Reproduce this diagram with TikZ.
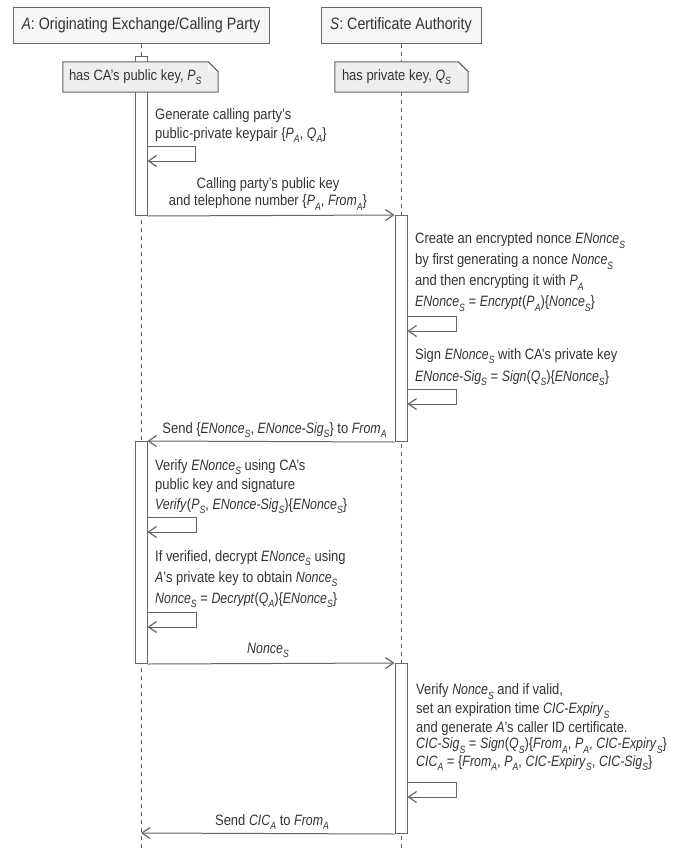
\documentclass[tikz,border=0pt]{standalone}
\usepackage{fontspec}
\setmainfont{Liberation Sans}[
  UprightFeatures={FakeStretch=0.865},
  ItalicFeatures={FakeStretch=0.825}]
\usetikzlibrary{arrows.meta}

\definecolor{ink}{HTML}{333333}
\definecolor{edge}{HTML}{666666}
\definecolor{headfill}{HTML}{F6F6F6}
\definecolor{notefill}{HTML}{EEEEEE}

% italic lowered index, as in P_S
\newcommand\lo[1]{\raisebox{-0.3em}{\fontsize{10.5}{10.5}\selectfont\itshape #1}}
\newcommand\vi[1]{\textit{#1}}

\tikzset{
  head/.style={draw=edge, fill=headfill, line width=1pt, inner sep=0pt,
    minimum height=36pt, font=\fontsize{16.5}{18}\selectfont},
  life/.style={draw=edge, line width=1pt, dash pattern=on 4pt off 4pt},
  act/.style={draw=edge, fill=white, line width=1pt, inner sep=0pt,
    minimum width=12pt, anchor=north},
  notetext/.style={inner sep=0pt, minimum height=30pt},
  notebox/.style={draw=edge, fill=notefill, line width=1pt, line join=miter},
  msg/.style={draw=edge, line width=1pt, -{Straight Barb[length=8pt,width=11pt,line width=1.2pt]}},
  txt/.style={inner sep=0pt, align=left, anchor=base west},
  ctxt/.style={inner sep=0pt, align=center, anchor=base},
}

\begin{document}
\begin{tikzpicture}[x=1pt, y=-1pt, font=\fontsize{15}{18}\selectfont, text=ink]
\useasboundingbox (0,0) rectangle (678,849);

% participants
\node[head, minimum width=256pt] (hA) at (141,25) {\vi{A}: Originating Exchange/Calling Party};
\node[head, minimum width=160pt] (hS) at (401,25) {\vi{S}: Certificate Authority};

% lifelines
\coordinate (bA) at (141,849);
\coordinate (bS) at (401,849);
\draw[life] (hA.south) -- (bA);
\draw[life] (hS.south) -- (bS);

% activation bars
\node[act, minimum height=159pt] (a1) at (141,56) {};
\node[act, minimum height=226pt] (s1) at (401,215) {};
\node[act, minimum height=222pt] (a2) at (141,441) {};
\node[act, minimum height=170pt] (s2) at (401,663) {};

% notes with a folded corner
\node[notetext, minimum width=155pt] (nA) at (140.5,77) {};
\node[notetext, minimum width=133pt] (nS) at (401.5,77) {};
\foreach \n in {nA,nS}{
  \draw[notebox] (\n.north west) -- ([xshift=-10pt]\n.north east)
    -- ([yshift=-10pt]\n.north east) -- (\n.south east) -- (\n.south west) -- cycle;
  \fill[white] ([xshift=-10pt]\n.north east) -- ([xshift=-10pt,yshift=-10pt]\n.north east)
    -- ([yshift=-10pt]\n.north east) -- cycle;
  \draw[edge, line width=1pt] ([xshift=-10pt]\n.north east) -- ([yshift=-10pt]\n.north east);
}
\node[inner sep=0pt, anchor=west] (tA) at ([xshift=6pt]nA.west) {has CA's public key, \vi{P}\lo{S}};
\node[inner sep=0pt, anchor=west] (tS) at ([xshift=7pt]nS.west) {has private key, \vi{Q}\lo{S}};

% A generates its keypair
\node[txt] (g1) at (155,138) {Generate calling party's\\[0.5pt]public-private keypair \{\vi{P}\lo{A}, \vi{Q}\lo{A}\}};
\coordinate (k1) at (195,146);
\coordinate (k1e) at (195,161);
\draw[msg] (a1.east |- k1) -- (k1) -- (k1e) -- (a1.east |- k1e);

% A -> S : public key and number
\node[ctxt] (m1) at (268,205.5) {Calling party's public key\\[-0.5pt]and telephone number \{\vi{P}\lo{A}, \vi{From}\lo{A}\}};
\draw[msg] (a1.south east) -- (s1.north west);

% S creates the encrypted nonce
\node[txt] (c1) at (415,306.5) {Create an encrypted nonce \vi{ENonce}\lo{S}\\[3pt]
  by first generating a nonce \vi{Nonce}\lo{S}\\[3pt]
  and then encrypting it with \vi{P}\lo{A}\\[3pt]
  \vi{ENonce}\lo{S} = \vi{Encrypt}(\vi{P}\lo{A})\{\vi{Nonce}\lo{S}\}};
\coordinate (k2) at (456,316);
\coordinate (k2e) at (456,331);
\draw[msg] (s1.east |- k2) -- (k2) -- (k2e) -- (s1.east |- k2e);

% S signs it
\node[txt] (c2) at (415,381) {Sign \vi{ENonce}\lo{S} with CA's private key\\[4pt]
  \vi{ENonce-Sig}\lo{S} = \vi{Sign}(\vi{Q}\lo{S})\{\vi{ENonce}\lo{S}\}};
\coordinate (k3) at (456,389);
\coordinate (k3e) at (456,404);
\draw[msg] (s1.east |- k3) -- (k3) -- (k3e) -- (s1.east |- k3e);

% S -> A : nonce and signature
\node[ctxt] (m2) at (274.5,433) {Send \{\vi{ENonce}\lo{S}, \vi{ENonce-Sig}\lo{S}\} to \vi{From}\lo{A}};
\draw[msg] (s1.south west) -- (a2.north east);

% A verifies
\node[txt] (v1) at (155,509) {Verify \vi{ENonce}\lo{S} using CA's\\[1.5pt]
  public key and signature\\[1.5pt]
  \vi{Verify}(\vi{P}\lo{S}, \vi{ENonce-Sig}\lo{S})\{\vi{ENonce}\lo{S}\}};
\coordinate (k4) at (196,517);
\coordinate (k4e) at (196,532);
\draw[msg] (a2.east |- k4) -- (k4) -- (k4e) -- (a2.east |- k4e);

% A decrypts
\node[txt] (v2) at (155,603) {If verified, decrypt \vi{ENonce}\lo{S} using\\[3pt]
  \vi{A}'s private key to obtain \vi{Nonce}\lo{S}\\[3pt]
  \vi{Nonce}\lo{S} = \vi{Decrypt}(\vi{Q}\lo{A})\{\vi{ENonce}\lo{S}\}};
\coordinate (k5) at (196,612);
\coordinate (k5e) at (196,627);
\draw[msg] (a2.east |- k5) -- (k5) -- (k5e) -- (a2.east |- k5e);

% A -> S : nonce
\node[ctxt] (m3) at (268,653) {\vi{Nonce}\lo{S}};
\draw[msg] (a2.south east) -- (s2.north west);

% S issues the caller ID certificate
\node[txt] (c3) at (416,766) {Verify \vi{Nonce}\lo{S} and if valid,\\[1pt]
  set an expiration time \vi{CIC-Expiry}\lo{S}\\[0.5pt]
  and generate \vi{A}'s caller ID certificate.\\[-1.5pt]
  \vi{CIC-Sig}\lo{S} = \vi{Sign}(\vi{Q}\lo{S})\{\vi{From}\lo{A}, \vi{P}\lo{A}, \vi{CIC-Expiry}\lo{S}\}\\[-0.5pt]
  \vi{CIC}\lo{A} = \{\vi{From}\lo{A}, \vi{P}\lo{A}, \vi{CIC-Expiry}\lo{S}, \vi{CIC-Sig}\lo{S}\}};
\coordinate (k6) at (456,782);
\coordinate (k6e) at (456,797);
\draw[msg] (s2.east |- k6) -- (k6) -- (k6e) -- (s2.east |- k6e);

% S -> A : certificate
\node[ctxt] (m4) at (272,825) {Send \vi{CIC}\lo{A} to \vi{From}\lo{A}};
\coordinate (eA) at (141,833);
\draw[msg] (s2.south west) -- (eA);
\end{tikzpicture}
\end{document}
